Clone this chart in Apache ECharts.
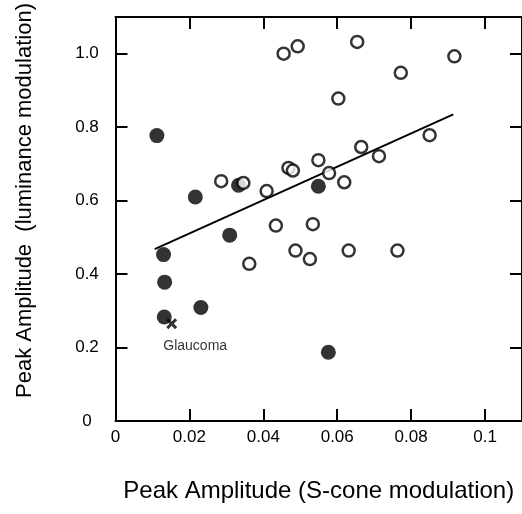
<!DOCTYPE html>
<html>
<head>
<meta charset="utf-8">
<script src="https://cdn.jsdelivr.net/npm/echarts@6/dist/echarts.min.js"></script>
<style>
html,body{margin:0;padding:0;background:#fff;}
#c{width:522px;height:514px;}
</style>
</head>
<body>
<div id="c"></div>
<script>
// ---- data ----
var openX = [0.0455, 0.0493, 0.0654, 0.0917, 0.0772, 0.0603, 0.0850, 0.0665, 0.0713, 0.0549, 0.0468, 0.0480, 0.0578, 0.0619, 0.0286, 0.0346, 0.0409, 0.0434, 0.0534, 0.0487, 0.0526, 0.0631, 0.0763, 0.0362];
var openY = [1.000, 1.020, 1.032, 0.993, 0.948, 0.878, 0.778, 0.746, 0.721, 0.710, 0.689, 0.682, 0.675, 0.650, 0.653, 0.648, 0.626, 0.532, 0.536, 0.464, 0.441, 0.464, 0.464, 0.428];
var filledX = [0.0112, 0.0216, 0.0333, 0.0549, 0.0309, 0.0130, 0.0133, 0.0132, 0.0231, 0.0576];
var filledY = [0.777, 0.610, 0.642, 0.639, 0.506, 0.453, 0.378, 0.283, 0.309, 0.187];
var glaucomaX = [0.0152];
var glaucomaY = [0.265];
var glaucomaName = 'Glaucoma';
var fitX = [0.0106, 0.0914];
var fitY = [0.468, 0.835];
var xTickValues = [0, 0.02, 0.04, 0.06, 0.08, 0.1];
var xTickLabels = ['0', '0.02', '0.04', '0.06', '0.08', '0.1'];
var yTickValues = [0, 0.2, 0.4, 0.6, 0.8, 1.0];
var yTickLabels = ['0', '0.2', '0.4', '0.6', '0.8', '1.0'];
var xTitle = 'Peak Amplitude (S-cone modulation)';
var yTitle = 'Peak Amplitude  (luminance modulation)';

function zip(a, b) { return a.map(function (v, i) { return [v, b[i]]; }); }
function lookup(vals, labels) {
  return function (v) {
    for (var i = 0; i < vals.length; i++) { if (Math.abs(vals[i] - v) < 1e-9) return labels[i]; }
    return '';
  };
}

var FONT = '"Liberation Sans", Arial, Helvetica, sans-serif';
var axisLine = { show: true, onZero: false, lineStyle: { color: '#000', width: 2 } };
var axisTick = { show: true, inside: true, length: 12, lineStyle: { color: '#000', width: 2 } };

var chart = echarts.init(document.getElementById('c'), null, { renderer: 'canvas' });
chart.setOption({
  animation: false,
  backgroundColor: '#fff',
  grid: { left: 115.5, right: -5, top: 14, bottom: 93, containLabel: false },
  xAxis: [
    {
      type: 'value', position: 'bottom', min: 0, max: 0.11, interval: 0.02,
      axisLine: axisLine, axisTick: axisTick, splitLine: { show: false },
      axisLabel: { show: true, margin: 8, color: '#000', fontSize: 17, fontFamily: FONT, showMaxLabel: false,
        formatter: lookup(xTickValues, xTickLabels) },
      name: xTitle, nameLocation: 'middle', nameGap: 58,
      nameTextStyle: { color: '#000', fontSize: 24, fontFamily: FONT }
    },
    {
      type: 'value', position: 'top', min: 0, max: 0.11, interval: 0.02,
      axisLine: axisLine, axisTick: axisTick, splitLine: { show: false },
      axisLabel: { show: false }
    }
  ],
  yAxis: [
    {
      type: 'value', position: 'left', min: 0, max: 1.1, interval: 0.2,
      axisLine: axisLine, axisTick: axisTick, splitLine: { show: false },
      axisLabel: { show: true, margin: 28.5, align: 'center', color: '#000', fontSize: 17, fontFamily: FONT, showMaxLabel: false,
        formatter: lookup(yTickValues, yTickLabels) },
      name: yTitle, nameLocation: 'middle', nameGap: 80,
      nameTextStyle: { color: '#000', fontSize: 22, fontFamily: FONT, padding: [0, 0, 0, 37] }
    },
    {
      type: 'value', position: 'right', min: 0, max: 1.1, interval: 0.2,
      axisLine: axisLine, axisTick: axisTick, splitLine: { show: false },
      axisLabel: { show: false }
    }
  ],
  series: [
    {
      type: 'line', data: zip(fitX, fitY), symbol: 'none',
      lineStyle: { color: '#000', width: 2 }, z: 2
    },
    {
      type: 'scatter', data: zip(filledX, filledY), symbol: 'circle', symbolSize: 15,
      itemStyle: { color: '#000' }, z: 3
    },
    {
      type: 'scatter', data: zip(openX, openY), symbol: 'circle', symbolSize: 12,
      itemStyle: { color: '#fff', borderColor: '#000', borderWidth: 2.5 }, z: 4
    },
    {
      type: 'scatter', data: zip(glaucomaX, glaucomaY),
      symbol: 'path://M2,0 L5,3 L8,0 L10,2 L7,5 L10,8 L8,10 L5,7 L2,10 L0,8 L3,5 L0,2 Z',
      symbolSize: 11, itemStyle: { color: '#000' }, z: 5,
      label: { show: true, position: 'bottom', distance: 5, offset: [23.5, 4.5],
        formatter: function () { return glaucomaName; },
        color: '#000', fontSize: 14, fontFamily: FONT }
    }
  ]
});
</script>
</body>
</html>
